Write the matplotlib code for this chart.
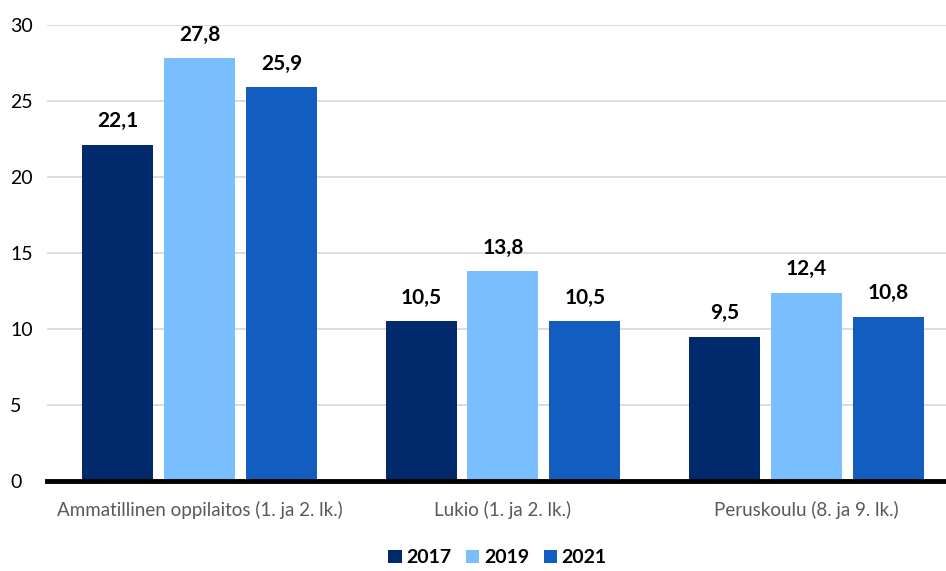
import numpy as np
import matplotlib.pyplot as plt

plt.rcParams['font.family'] = ['Lato', 'DejaVu Sans']

categories = ['Ammatillinen oppilaitos (1. ja 2. lk.)', 'Lukio (1. ja 2. lk.)', 'Peruskoulu (8. ja 9. lk.)']
years = ['2017', '2019', '2021']
v2017 = [22.1, 10.5, 9.5]
v2019 = [27.8, 13.8, 12.4]
v2021 = [25.9, 10.5, 10.8]
colors = ['#012A6C', '#79BEFF', '#135CC0']

fig = plt.figure(figsize=(9.46, 5.71), dpi=100)
ax = fig.add_axes([47 / 946, 1 - 481 / 571, 899 / 946, 456 / 571])

x = np.arange(len(categories))
width = 0.234
step = 0.270
for i, (vals, label, color) in enumerate(zip([v2017, v2019, v2021], years, colors)):
    pos = x + (i - 1) * step
    ax.bar(pos, vals, width, color=color, label=label, zorder=3)
    for px, v in zip(pos, vals):
        ax.text(px, v + 0.9, f'{v:.1f}'.replace('.', ','), ha='center', va='bottom',
                fontsize=15, fontweight='bold', color='black')

ax.set_xlim(-0.5025, 2.46)
ax.set_ylim(0, 30)
ax.set_yticks(range(0, 31, 5))
ax.yaxis.grid(True, color='#d9d9d9', linewidth=1.3, zorder=0)
ax.set_axisbelow(True)
for s in ['top', 'right', 'left']:
    ax.spines[s].set_visible(False)
ax.spines['bottom'].set_linewidth(3.5)
ax.spines['bottom'].set_color('black')
ax.spines['bottom'].set_zorder(4)
ax.tick_params(axis='y', length=0, labelsize=14, pad=26.5)
ax.tick_params(axis='x', length=0, labelsize=13.5, labelcolor='#595959', pad=14)
ax.set_xticks(x)
ax.set_xticklabels(categories)
for lbl in ax.get_yticklabels():
    lbl.set_horizontalalignment('left')

leg = fig.legend(loc='lower center', bbox_to_anchor=(0.526, -0.022), ncol=3, frameon=False,
                 prop={'size': 14, 'weight': 'bold'}, handlelength=0.67, handleheight=0.67,
                 handletextpad=0.25, columnspacing=0.75)

fig.savefig('out.png', dpi=100)
